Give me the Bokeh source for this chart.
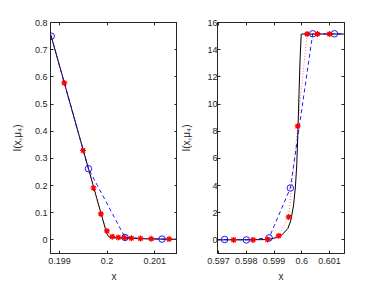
from bokeh.plotting import figure
from bokeh.layouts import row
from bokeh.models import Range1d, FixedTicker, LinearAxis, CustomJSTickFormatter
from bokeh.embed import file_html
from bokeh.resources import INLINE

# ---------------- data: left panel (x near 0.2) ----------------
exactL_x = [0.19870, 0.19999, 0.20003, 0.20008, 0.20020, 0.20040, 0.20070, 0.20110, 0.20160]
exactL_y = [0.827, 0.0245, 0.012, 0.009, 0.0075, 0.006, 0.0045, 0.003, 0.002]
blueL_x = [0.198824, 0.199608, 0.200377, 0.201155, 0.201935]
blueL_y = [0.7497, 0.262, 0.009, 0.003, 0.002]
redL_x = [0.19872, 0.19910, 0.199494, 0.199714, 0.199869, 0.199996, 0.200108,
          0.200235, 0.200362, 0.200511, 0.200701, 0.200928, 0.201303, 0.201700]
redL_y = [0.817, 0.5776, 0.329, 0.191, 0.0955, 0.033, 0.012,
          0.009, 0.008, 0.006, 0.005, 0.004, 0.003, 0.002]
xticksL = [0.199, 0.2, 0.201]
yticksL = [0, 0.1, 0.2, 0.3, 0.4, 0.5, 0.6, 0.7, 0.8]

# ---------------- data: right panel (x near 0.6) ----------------
exactR_x = [0.59690, 0.59860, 0.59890, 0.59910, 0.59930, 0.59950, 0.59960, 0.59970,
            0.59977, 0.59982, 0.59986, 0.59990, 0.59994, 0.59998, 0.60000, 0.60160]
exactR_y = [0.0, 0.02, 0.08, 0.18, 0.4, 0.85, 1.4, 2.5,
            3.9, 5.6, 8.0, 10.8, 13.4, 15.15, 15.15, 15.15]
blueR_x = [0.596437, 0.597217, 0.598000, 0.598820, 0.599588, 0.600394, 0.601177, 0.601960]
blueR_y = [0.0, 0.03, 0.0, 0.15, 3.82, 15.17, 15.17, 15.17]
redR_x = [0.597542, 0.598240, 0.598760, 0.599166, 0.599527, 0.599852,
          0.600191, 0.600563, 0.601000]
redR_y = [0.0, 0.0, 0.03, 0.3, 1.69, 8.37, 15.15, 15.15, 15.15]
xticksR = [0.597, 0.598, 0.599, 0.6, 0.601]
yticksR = [0, 2, 4, 6, 8, 10, 12, 14, 16]

AX = "#262626"
FONT = "Liberation Sans"
fmt = CustomJSTickFormatter(code="return String(Number(tick.toFixed(4)));")


def style_axis(ax):
    ax.major_tick_in = 3
    ax.major_tick_out = 0
    ax.minor_tick_line_color = None
    ax.axis_line_color = AX
    ax.major_tick_line_color = AX
    ax.major_label_text_font = FONT
    ax.major_label_text_font_size = "9px"
    ax.major_label_text_color = AX
    ax.axis_label_text_font = FONT
    ax.axis_label_text_font_size = "10px"
    ax.axis_label_text_font_style = "normal"
    ax.axis_label_text_color = AX


def make(xr, yr, xt, yt, bl, br, ylab_standoff, lab_standoff):
    p = figure(frame_width=127, frame_height=231,
               min_border_left=bl, min_border_right=br,
               min_border_top=22, min_border_bottom=31,
               x_range=Range1d(*xr), y_range=Range1d(*yr),
               output_backend="svg", toolbar_location=None)
    p.grid.visible = False
    p.outline_line_color = AX
    p.background_fill_color = "white"
    p.border_fill_color = "white"
    p.xaxis.ticker = FixedTicker(ticks=xt)
    p.yaxis.ticker = FixedTicker(ticks=yt)
    p.xaxis.formatter = fmt
    p.yaxis.formatter = fmt
    p.xaxis.axis_label = "x"
    p.yaxis.axis_label = "I(x,μ₄)"
    for ax in p.xaxis + p.yaxis:
        style_axis(ax)
    p.xaxis.major_label_standoff = 4
    p.xaxis.axis_label_standoff = 4
    p.yaxis.major_label_standoff = lab_standoff
    p.yaxis.axis_label_standoff = ylab_standoff
    top = LinearAxis(ticker=FixedTicker(ticks=xt), formatter=CustomJSTickFormatter(code="return '';"))
    right = LinearAxis(ticker=FixedTicker(ticks=yt), formatter=CustomJSTickFormatter(code="return '';"))
    for ax in (top, right):
        style_axis(ax)
        ax.major_label_text_font_size = "0px"
        ax.major_label_standoff = 0
    p.add_layout(top, "above")
    p.add_layout(right, "right")
    return p


pL = make((0.19881, 0.20148), (-0.05, 0.8), xticksL, yticksL, 50, 0, 9, 3)
pR = make((0.59696, 0.60154), (-1, 16), xticksR, yticksR, 40, 11, 12, 0)

for p, ex, ey, bx, by, rx, ry in ((pL, exactL_x, exactL_y, blueL_x, blueL_y, redL_x, redL_y),
                                  (pR, exactR_x, exactR_y, blueR_x, blueR_y, redR_x, redR_y)):
    p.line(ex, ey, line_color="black", line_width=1)
    p.line(bx, by, line_color="#0000FF", line_width=0.9, line_dash="4 3")
    p.scatter(bx, by, marker="circle", size=6.5, line_color="#0000FF",
              fill_color=None, line_width=0.9)
    p.line(rx, ry, line_color="#FF0000", line_width=0.8, line_dash="1 2", line_alpha=0.7)
    p.scatter(rx, ry, marker="asterisk", size=6, line_color="#FF0000", line_width=1.2)
    p.scatter(rx, ry, marker="x", size=5, line_color="#FF0000", line_width=1.2)

layout = row(pL, pR, spacing=0)
open("out.html", "w").write(file_html(layout, INLINE))
